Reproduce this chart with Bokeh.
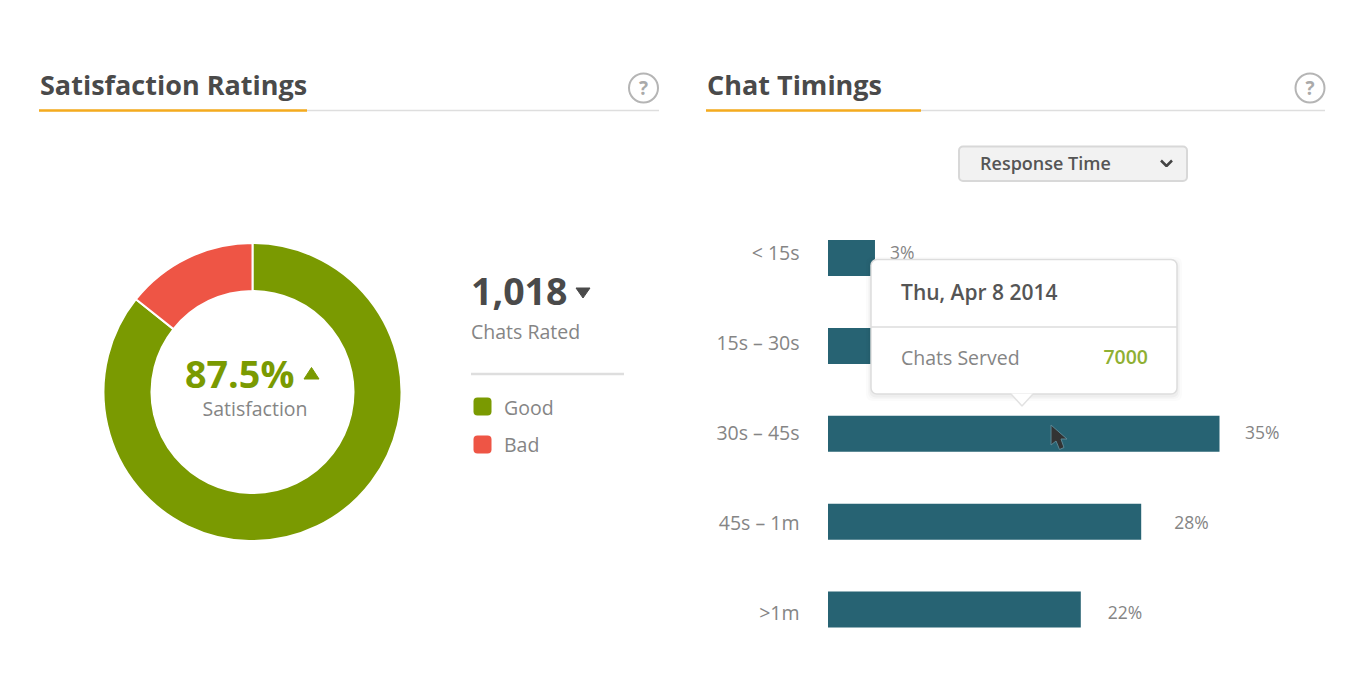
from math import pi
import numpy as np
from bokeh.plotting import figure
from bokeh.layouts import column, row
from bokeh.models import Range1d, LinearAxis, FixedTicker
from bokeh.core.properties import value
from bokeh.embed import file_html
from bokeh.resources import INLINE

# ---- data ----
panel_titles = ["Satisfaction Ratings", "Chat Timings"]
rating_names = ["Good", "Bad"]
rating_shares = [85.7, 14.3]
rating_colors = ["#7a9a01", "#ee5545"]
satisfaction_text = "87.5%"
rated_text = "1,018"
categories = ["< 15s", "15s – 30s", "30s – 45s", "45s – 1m", ">1m"]
bar_lengths = [4.2, 12.0, 35.0, 28.0, 22.6]
bar_labels = ["3%", "", "35%", "28%", "22%"]
dropdown_text = "Response Time"
tooltip_date = "Thu, Apr 8 2014"
tooltip_name = "Chats Served"
tooltip_value = "7000"

FONT = value("Open Sans")
SEMI = value("Open Sans SemiBold")
DARK, GREY, RULE = "#4a4a4a", "#858585", "#dedede"
ORANGE = "#f5ab1e"
BAR = "#276373"


def base(w, h, x_range, y_range, **kw):
    p = figure(width=w, height=h, x_range=x_range, y_range=y_range, tools="",
               toolbar_location=None, output_backend="svg",
               x_axis_location=None, y_axis_location=None,
               min_border=0, outline_line_color=None, **kw)
    p.grid.visible = False
    return p


def label(p, x, y, txt, size, color, style="normal", align="left", font=FONT, **kw):
    p.text([x], [y], text=[txt], text_font=font, text_font_size=f"{size}px",
           text_color=color, text_font_style=style, text_align=align,
           text_baseline="middle", **kw)


# ---- header strip ----
head = base(1363, 190, Range1d(0.5, 1363.5), Range1d(190.5, 0.5))
for title, x0, x1, x_end, x_help in zip(panel_titles, [39, 706], [307, 921], [659, 1325], [643.5, 1310]):
    head.line([x0, x_end], [110.5, 110.5], line_color=RULE, line_width=1.5)
    head.line([x0, x1], [110.5, 110.5], line_color=ORANGE, line_width=2.5)
    label(head, x0 + 1, 84, title, 27, DARK, "bold")
    head.scatter([x_help], [88], marker="circle", size=29, fill_color="white",
                 line_color="#b5b5b5", line_width=2)
    label(head, x_help, 88, "?", 19, "#aaaaaa", "bold", "center")
head.quad(left=[959], right=[1187], top=[146.5], bottom=[181], fill_color="#f2f2f2",
          line_color="#d8d8d8", line_width=2, border_radius=4)
label(head, 980, 163, dropdown_text, 18, "#555555", font=SEMI)
head.line([1161, 1166.5, 1172], [160.5, 166, 160.5], line_color="#444444", line_width=2.5)

# ---- donut panel ----
cx, cy = 252.5, 392
left = base(697, 486, Range1d(0.5 - cx, 697.5 - cx), Range1d(cy - 676.5, cy - 190.5))
left.extra_x_ranges["px"] = Range1d(0.5, 697.5)
left.extra_y_ranges["py"] = Range1d(676.5, 190.5)
shares = np.array(rating_shares)
stops = np.concatenate([[0], np.cumsum(shares)]) / shares.sum() * 2 * pi
left.annular_wedge(x=0, y=0, inner_radius=101, outer_radius=149,
                   start_angle=pi / 2 - stops[:-1], end_angle=pi / 2 - stops[1:],
                   direction="clock", fill_color=rating_colors, line_color="white", line_width=2)
pk = dict(x_range_name="px", y_range_name="py")
label(left, 185, 373, satisfaction_text, 37.7, rating_colors[0], "bold", **pk)
left.patch([304, 319, 311.5], [379, 379, 367.5], color=rating_colors[0], **pk)
label(left, 255, 408, "Satisfaction", 19.5, GREY, align="center", **pk)
label(left, 471, 291, rated_text, 37.5, DARK, "bold", **pk)
left.patch([576, 590, 583], [288, 288, 298], color=DARK, **pk)
label(left, 471, 331, "Chats Rated", 19.5, GREY, **pk)
left.line([471, 624], [374, 374], line_color=RULE, line_width=2.5, **pk)
for name, col, y, ty in zip(rating_names, rating_colors, [406.5, 444.5], [407, 444]):
    left.quad(left=[473.5], right=[491.5], top=[y - 9], bottom=[y + 9], fill_color=col,
              line_color=None, border_radius=4, **pk)
    label(left, 504, ty, name, 19.5, GREY, **pk)

# ---- bar panel ----
px_per_unit = 391.5 / 35
bars = base(665, 486, Range1d(-0.5 / px_per_unit, 534.5 / px_per_unit),
            Range1d((676.5 - 258) / 87.9, (190.5 - 258) / 87.9))
bars.min_border_left = 130
bars.extra_y_ranges["labels"] = Range1d((676.5 - 252) / 90, (190.5 - 252) / 90)
bars.extra_x_ranges["px"] = Range1d(827.5, 1362.5)
bars.extra_y_ranges["py"] = Range1d(676.5, 190.5)
idx = list(range(len(categories)))
axis = LinearAxis(y_range_name="labels", ticker=FixedTicker(ticks=idx),
                  major_label_overrides={i: c for i, c in zip(idx, categories)})
axis.axis_line_color = None
axis.major_tick_line_color = None
axis.minor_tick_line_color = None
axis.major_tick_out = 0
axis.major_tick_in = 0
axis.major_label_standoff = 28
axis.major_label_text_font = "Open Sans"
axis.major_label_text_font_size = "19.5px"
axis.major_label_text_color = GREY
bars.add_layout(axis, "left")
bars.hbar(y=idx, left=0, right=bar_lengths, height=36 / 87.9, fill_color=BAR, line_color=None)
gaps = [15, 0, 25.5, 33, 27]
for i, (v, t, g) in enumerate(zip(bar_lengths, bar_labels, gaps)):
    if t:
        bars.text([v], [i], text=[t], x_offset=g, text_font=FONT, text_font_size="17.5px",
                  text_color=GREY, text_baseline="middle", y_range_name="labels")

# tooltip
for grow, alpha in [(5, 0.015), (3, 0.02), (1.5, 0.03)]:
    bars.quad(left=[871 - grow], right=[1177 + grow], top=[260 - grow + 2], bottom=[394 + grow + 2],
              fill_color="black", fill_alpha=alpha, line_color=None, border_radius=6, **pk)
bars.quad(left=[871], right=[1177], top=[259.5], bottom=[394], fill_color="white",
          line_color="#dddddd", line_width=1.5, border_radius=6, **pk)
bars.patch([1011, 1022, 1033], [393.5, 406, 393.5], fill_color="white", line_color=None, **pk)
bars.line([1011, 1022, 1033], [394, 406, 394], line_color="#e2e2e2", line_width=1.5, **pk)
bars.line([871, 1177], [327, 327], line_color="#dddddd", line_width=1.5, **pk)
label(bars, 901, 292, tooltip_date, 21, "#555555", font=SEMI, **pk)
label(bars, 901, 357, tooltip_name, 19.5, GREY, **pk)
label(bars, 1148, 357, tooltip_value, 19.5, "#8fb033", align="right", font=SEMI, **pk)
# mouse pointer
bars.patch([1051, 1051, 1056, 1059.5, 1064, 1061, 1067], [425, 445, 441, 449.5, 447.5, 439, 439],
           fill_color="#333333", line_color="#5b8795", line_width=1, **pk)

page = column(head, row(left, bars, spacing=0), spacing=0)
open("out.html", "w").write(file_html(page, INLINE))
